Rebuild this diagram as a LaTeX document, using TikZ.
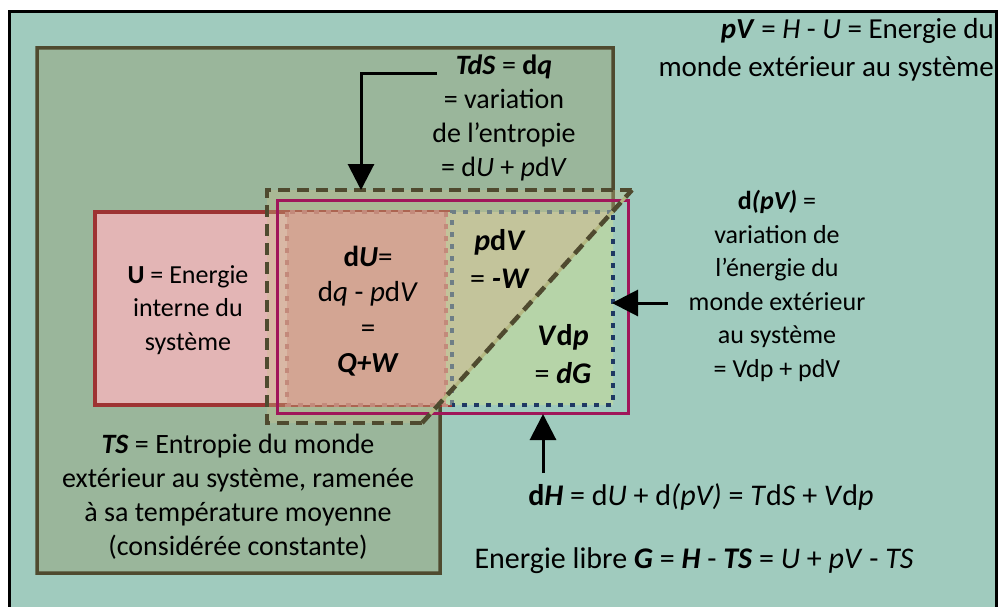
\documentclass[tikz,border=0pt]{standalone}
\usepackage{fontspec}
\setmainfont{Carlito}
\usetikzlibrary{arrows.meta}
\newcommand{\bi}[1]{\textbf{\textit{#1}}}
\definecolor{teal}{HTML}{A0CBBE}
\definecolor{tsfill}{HTML}{9AB69B}
\definecolor{olive}{HTML}{4F4A2F}
\definecolor{upink}{HTML}{E3B5B5}
\definecolor{ured}{HTML}{9E3333}
\definecolor{dufill}{HTML}{D3A593}
\definecolor{dudot}{HTML}{C38A7B}
\definecolor{tint}{HTML}{C8C08A}
\definecolor{pdvfill}{HTML}{C3C49B}
\definecolor{vdpfill}{HTML}{B6D4A8}
\definecolor{navy}{HTML}{1F3864}
\definecolor{greydot}{HTML}{6E7E86}
\definecolor{magenta}{HTML}{A0165A}
\definecolor{diaglight}{HTML}{B4B882}
\tikzset{
  txt/.style={font=\fontsize{28}{34}\selectfont, align=center, inner sep=0pt},
  small/.style={font=\fontsize{26}{33.5}\selectfont},
  arr/.style={line width=3pt, -{Triangle[length=26pt,width=26pt]}},
  dots/.style={line width=4pt, dash pattern=on 5pt off 7pt},
  olivedash/.style={draw=olive, line width=4.5pt, dash pattern=on 12pt off 7pt}
}
\begin{document}
\begin{tikzpicture}[x=1pt,y=-1pt]
\useasboundingbox (0,0) rectangle (998,607);
% frame
\fill[white] (0,0) rectangle (998,607);
\draw[line width=3pt, fill=teal] (9.5,11.5) rectangle (996.5,640);
% TS region
\draw[draw=olive, fill=tsfill, line width=3.5pt]
  (37,48) -- (613,48) -- (613,211) -- (440,403) -- (440,573) -- (37,573) -- cycle;
% U box
\draw[draw=ured, fill=upink, line width=4.5pt] (95,212) rectangle (450,405);
% trapezoid tint
\fill[tint, fill opacity=0.35] (632,190) -- (267,190) -- (267,423) -- (422,423) -- cycle;
% dU box
\fill[dufill] (287,212) rectangle (446,405);
% pdV / Vdp triangles
\fill[pdvfill] (446,212) -- (612.2,212) -- (446,396.3) -- cycle;
\fill[vdpfill] (612.2,212) -- (613,212) -- (613,405) -- (446,405) -- (446,396.3) -- cycle;
% dotted outlines
\draw[dots, draw=dudot] (287,212) rectangle (446,405);
\draw[dots, draw=greydot] (452,405) -- (452,212) -- (613,212);
\draw[dots, draw=navy] (613,215) -- (613,405) -- (452,405);
% magenta box
\draw[draw=magenta, line width=3pt] (277,200) rectangle (628,413);
% dashed trapezoid
\draw[olivedash] (632,190) -- (267,190) -- (267,423) -- (422,423);
\draw[draw=diaglight, line width=3pt] (422,423) -- (632,190);
\draw[olivedash] (422,423) -- (632,190);
% texts
\node[txt, anchor=east, align=right, font=\fontsize{29}{38}\selectfont] (pv) at (994,50)
  {\bi{pV} = \textit{H} - \textit{U} = Energie du\\monde extérieur au système};
\node[txt] (tds) at (504,118)
  {\bi{TdS} = \textbf{d}\bi{q}\\= variation\\de l’entropie\\= d\textit{U} + \textit{p}d\textit{V}};
\node[txt, small] (u) at (188,310) {\textbf{U} = Energie\\interne du\\système};
\node[txt, font=\fontsize{29}{35.5}\selectfont] (du) at (368,311)
  {\textbf{d}\bi{U}=\\d\textit{q} - \textit{p}d\textit{V}\\=\\\bi{Q+W}};
\node[txt, font=\fontsize{30}{38}\selectfont] (pdv) at (500,259) {\bi{p}\textbf{d}\bi{V}\\= \bi{-W}};
\node[txt, font=\fontsize{30}{38}\selectfont] (vdp) at (563,354) {\bi{V}\textbf{d}\bi{p}\\= \bi{dG}};
\node[txt, small] (dpv) at (777,286)
  {\textbf{d}\bi{(pV)} =\\variation de\\l’énergie du\\monde extérieur\\au système\\= Vdp + pdV};
\node[txt, font=\fontsize{30}{36}\selectfont] (dh) at (701,497)
  {\textbf{d}\bi{H} = d\textit{U} + d\textit{(pV)} = \textit{T}d\textit{S} + \textit{V}d\textit{p}};
\node[txt, font=\fontsize{30}{36}\selectfont] (gl) at (694,561)
  {Energie libre \bi{G} = \bi{H} - \bi{TS} = \textit{U} + \textit{pV} - \textit{TS}};
\node[txt] (ts) at (238,497)
  {\bi{TS} = Entropie du monde\\extérieur au système, ramenée\\à sa température moyenne\\(considérée constante)};
% arrows
\coordinate (a1s) at (437,74);
\coordinate (a1e) at (361,190);
\draw[arr] (a1s) -| (a1e);
\coordinate (a2s) at (668,303);
\coordinate (a2e) at (612,303);
\draw[arr] (a2s) -- (a2e);
\coordinate (a3s) at (543,473);
\coordinate (a3e) at (543,414);
\draw[arr] (a3s) -- (a3e);
\end{tikzpicture}
\end{document}
